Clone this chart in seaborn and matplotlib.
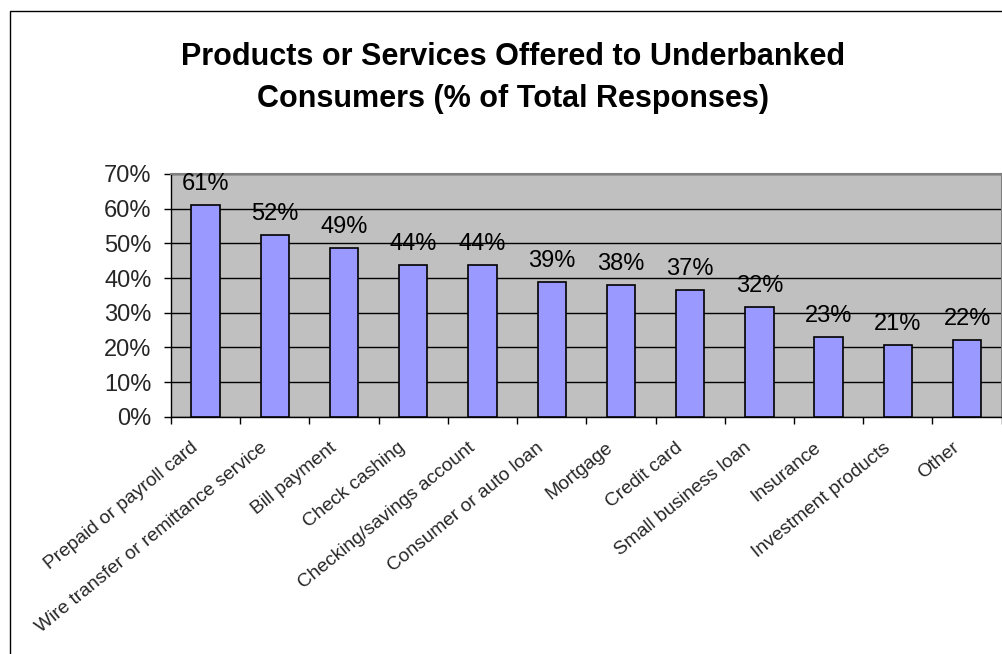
import matplotlib
matplotlib.use("Agg")
import matplotlib.pyplot as plt
import matplotlib.transforms as mtransforms
from matplotlib.patches import Rectangle
import seaborn as sns
import pandas as pd

categories = [
    "Prepaid or payroll card",
    "Wire transfer or remittance service",
    "Bill payment",
    "Check cashing",
    "Checking/savings account",
    "Consumer or auto loan",
    "Mortgage",
    "Credit card",
    "Small business loan",
    "Insurance",
    "Investment products",
    "Other",
]
values = [61.1, 52.4, 48.8, 43.8, 43.8, 38.8, 37.9, 36.6, 31.6, 23.0, 20.7, 22.0]
y_ticks = [0, 10, 20, 30, 40, 50, 60, 70]
y_tick_labels = ["0%", "10%", "20%", "30%", "40%", "50%", "60%", "70%"]
title = "Products or Services Offered to Underbanked\nConsumers (% of Total Responses)"

sns.set_theme(style="white")
plt.rcParams["font.family"] = ["Liberation Sans", "DejaVu Sans"]

W, H = 1003, 654
fig = plt.figure(figsize=(W / 100, H / 100), dpi=100)
fig.patch.set_facecolor("white")

ax = fig.add_axes([171 / W, 1 - 416.7 / H, (1001.7 - 171) / W, (416.7 - 174) / H])
ax.set_facecolor("#C0C0C0")

df = pd.DataFrame({"category": categories, "value": values})
sns.barplot(data=df, x="category", y="value", order=categories, color="#9999FF",
            saturation=1, edgecolor="black", linewidth=1.2, width=0.41, ax=ax, zorder=3)

ax.set_xlim(-0.5, len(categories) - 0.5)
ax.set_ylim(0, 70)
ax.set_yticks(y_ticks)
ax.set_yticklabels(y_tick_labels)
ax.yaxis.grid(True, color="black", linewidth=1.0, zorder=1)
ax.set_axisbelow(True)
ax.set_xlabel("")
ax.set_ylabel("")

for side in ["top", "right"]:
    ax.spines[side].set_visible(True)
    ax.spines[side].set_color("#808080")
    ax.spines[side].set_linewidth(1.5)
for side in ["left", "bottom"]:
    ax.spines[side].set_visible(True)
    ax.spines[side].set_color("black")
    ax.spines[side].set_linewidth(1.0)

ax.tick_params(axis="y", which="major", direction="out", length=5, width=1,
               color="black", labelsize=17, pad=9, left=True)
# x ticks at category boundaries
ax.set_xticks([i - 0.5 for i in range(len(categories) + 1)], minor=True)
ax.tick_params(axis="x", which="minor", direction="out", length=5, width=1,
               color="black", bottom=True)
ax.set_xticks(range(len(categories)))
ax.set_xticklabels(categories, rotation=39, ha="right", va="center",
                   rotation_mode="anchor", fontsize=13.8)
ax.tick_params(axis="x", which="major", length=0, pad=21, bottom=True)
offset = mtransforms.ScaledTranslation(-10 / 100, 0, fig.dpi_scale_trans)
for lbl in ax.get_xticklabels():
    lbl.set_transform(lbl.get_transform() + offset)

for i, v in enumerate(values):
    ax.annotate(f"{round(v):d}%", xy=(i, v), xytext=(0, 10.8), textcoords="offset points",
                ha="center", va="baseline", fontsize=17, color="black", zorder=5)

fig.text(513 / W, 1 - 78 / H, title, ha="center", va="center", fontsize=22,
         fontweight="bold", linespacing=1.55, multialignment="center", color="black")

fig.patches.append(Rectangle((10 / W, -0.05), 1.2, 1 - 10.7 / H + 0.05,
                             transform=fig.transFigure, fill=False,
                             edgecolor="black", linewidth=1.0, zorder=10))

fig.savefig("out.png", dpi=100)
